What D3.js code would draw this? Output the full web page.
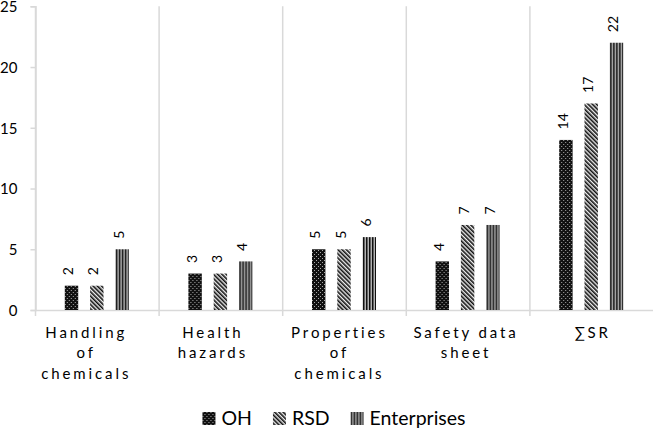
<!DOCTYPE html>
<html>
<head>
<meta charset="utf-8">
<script src="https://cdn.jsdelivr.net/npm/d3@7"></script>
<style>
  body { margin: 0; background: #fff; }
  svg { display: block; font-family: Lato, "Open Sans", sans-serif; }
</style>
</head>
<body>
<div id="chart"></div>
<script>
// chart data
var categories = ["Handling of chemicals", "Health hazards", "Properties of chemicals", "Safety data sheet", "∑SR"];
var categoryLines = [["Handling", "of", "chemicals"], ["Health", "hazards"], ["Properties", "of", "chemicals"], ["Safety data", "sheet"], ["∑SR"]];
var series = ["OH", "RSD", "Enterprises"];
var OH = [2, 3, 5, 4, 14];
var RSD = [2, 3, 5, 7, 17];
var Enterprises = [5, 4, 6, 7, 22];
var yTicks = [0, 5, 10, 15, 20, 25];

var values = { "OH": OH, "RSD": RSD, "Enterprises": Enterprises };
var w = 653, h = 429;
var plotLeft = 35, plotRight = 653, plotTop = 6.3, plotBottom = 310;
var gridColor = "#d9d9d9";

var svg = d3.select("#chart").append("svg")
    .attr("width", w)
    .attr("height", h);

// fill patterns
var defs = svg.append("defs");
var pOH = defs.append("pattern").attr("id", "pat-OH")
    .attr("patternUnits", "userSpaceOnUse").attr("width", 4).attr("height", 4);
pOH.append("rect").attr("width", 4).attr("height", 4).attr("fill", "#111");
pOH.append("rect").attr("x", 0).attr("y", 0).attr("width", 1).attr("height", 1).attr("fill", "#aaa");
pOH.append("rect").attr("x", 2).attr("y", 2).attr("width", 1).attr("height", 1).attr("fill", "#aaa");

var pRSD = defs.append("pattern").attr("id", "pat-RSD")
    .attr("patternUnits", "userSpaceOnUse").attr("width", 3).attr("height", 3)
    .attr("patternTransform", "rotate(-45)");
pRSD.append("rect").attr("width", 3).attr("height", 3).attr("fill", "#eee");
pRSD.append("rect").attr("width", 1.6).attr("height", 3).attr("fill", "#111");

var pEnt = defs.append("pattern").attr("id", "pat-Enterprises")
    .attr("patternUnits", "userSpaceOnUse").attr("width", 3).attr("height", 3);
pEnt.append("rect").attr("width", 3).attr("height", 3).attr("fill", "#b3b3b3");
pEnt.append("rect").attr("width", 1.5).attr("height", 3).attr("fill", "#111");

// scales
var x = d3.scaleBand().domain(categories).range([plotLeft, plotRight]).padding(0);
var groupW = 64;
var x1 = d3.scaleBand().domain(series).range([0, groupW]).paddingInner(0.47).paddingOuter(0);
var y = d3.scaleLinear().domain([0, 25]).range([plotBottom, plotTop]);
var xLabel = d3.scaleBand().domain(categories).range([21.5, 654.5]);

// vertical separators
svg.append("g").selectAll("line")
    .data(categories)
    .enter().append("line")
    .attr("x1", function (d) { return x(d) + 0.5; })
    .attr("x2", function (d) { return x(d) + 0.5; })
    .attr("y1", plotTop)
    .attr("y2", plotBottom + 6)
    .attr("stroke", gridColor)
    .attr("stroke-width", 1.5);

// horizontal axis line
svg.append("line")
    .attr("x1", plotLeft).attr("x2", plotRight)
    .attr("y1", y(0) + 0.5).attr("y2", y(0) + 0.5)
    .attr("stroke", gridColor).attr("stroke-width", 1.5);

// y axis
var yAxis = svg.append("g")
    .attr("transform", "translate(" + (plotLeft + 0.5) + ",0)")
    .call(d3.axisLeft(y).tickValues(yTicks).tickSize(5).tickPadding(13));
yAxis.select(".domain").attr("stroke", gridColor).attr("stroke-width", 1.5);
yAxis.selectAll(".tick line").attr("stroke", gridColor).attr("stroke-width", 1.5);
yAxis.selectAll(".tick text")
    .attr("fill", "#000")
    .style("font-size", "15px")
    .style("font-family", "Lato, sans-serif")
    .attr("dy", "0.36em");

// bars
var groups = svg.append("g").selectAll("g")
    .data(categories)
    .enter().append("g")
    .attr("transform", function (d) { return "translate(" + (x(d) + (x.bandwidth() - groupW) / 2) + ",0)"; });

groups.selectAll("rect")
    .data(function (d, i) { return series.map(function (s) { return { s: s, v: values[s][i] }; }); })
    .enter().append("rect")
    .attr("x", function (d) { return x1(d.s); })
    .attr("y", function (d) { return y(d.v); })
    .attr("width", x1.bandwidth())
    .attr("height", function (d) { return y(0) - y(d.v); })
    .attr("fill", function (d) { return "url(#pat-" + d.s + ")"; });

// value labels
groups.selectAll("text")
    .data(function (d, i) { return series.map(function (s) { return { s: s, v: values[s][i] }; }); })
    .enter().append("text")
    .attr("transform", function (d) {
        return "translate(" + (x1(d.s) + x1.bandwidth() / 2) + "," + (y(d.v) - 10.5) + ") rotate(-90)";
    })
    .attr("dy", "0.12em")
    .attr("text-anchor", "start")
    .style("font-size", "14px")
    .attr("fill", "#000")
    .text(function (d) { return d.v; });

// category labels
var ls = 2.9;
var cat = svg.append("g").selectAll("text")
    .data(categories)
    .enter().append("text")
    .attr("text-anchor", "middle")
    .style("font-size", "15px")
    .style("letter-spacing", ls + "px")
    .attr("fill", "#000");
cat.each(function (d, i) {
    var t = d3.select(this);
    categoryLines[i].forEach(function (line, k) {
        t.append("tspan")
            .attr("x", xLabel(d) + xLabel.bandwidth() / 2 + ls / 2)
            .attr("y", 338 + k * 20.3)
            .text(line);
    });
});

// legend
var legend = svg.append("g");
var lx = 0;
series.forEach(function (s) {
    var item = legend.append("g").attr("transform", "translate(" + lx + ",0)");
    item.append("rect")
        .attr("x", 0).attr("y", 412)
        .attr("width", 13).attr("height", 13)
        .attr("fill", "url(#pat-" + s + ")");
    var t = item.append("text")
        .attr("x", 19).attr("y", 425)
        .style("font-size", "19.5px")
        .attr("fill", "#000")
        .text(s);
    lx += 19 + t.node().getComputedTextLength() + 21;
});
var legendW = lx - 21;
legend.attr("transform", "translate(" + (334 - legendW / 2) + ",0)");
</script>
</body>
</html>
